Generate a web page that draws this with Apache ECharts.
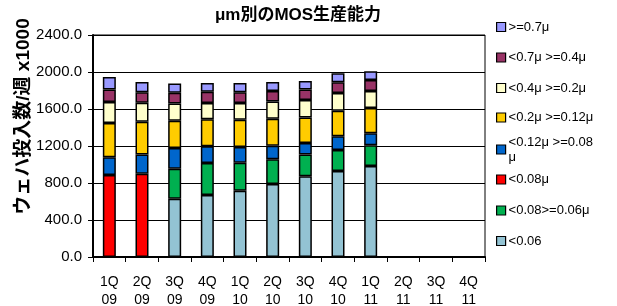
<!DOCTYPE html>
<html>
<head>
<meta charset="utf-8">
<script src="https://cdn.jsdelivr.net/npm/echarts@6/dist/echarts.min.js"></script>
<style>
  html, body { margin: 0; padding: 0; background: #fff; }
  #chart { width: 617px; height: 306px; }
</style>
</head>
<body>
<div id="chart"></div>
<script>
// μm別のMOS生産能力 積み上げ棒グラフ

const categories = ['1Q\n09', '2Q\n09', '3Q\n09', '4Q\n09', '1Q\n10', '2Q\n10', '3Q\n10', '4Q\n10', '1Q\n11', '2Q\n11', '3Q\n11', '4Q\n11'];

// 下から順に積み上げ
const lt006 = [null, null, 629, 669, 716, 789, 872, 930, 984, null, null, null];
const lt008ge006 = [null, null, 326, 347, 304, 267, 235, 227, 224, null, null, null];
const lt008 = [886, 901, null, null, null, null, null, null, null, null, null, null];
const lt012ge008 = [192, 206, 224, 181, 170, 148, 126, 149, 130, null, null, null];
const lt02ge012 = [372, 354, 293, 293, 293, 290, 275, 275, 272, null, null, null];
const lt04ge02 = [225, 206, 188, 174, 181, 188, 188, 191, 184, null, null, null];
const lt07ge04 = [137, 113, 116, 123, 116, 112, 116, 116, 119, null, null, null];
const ge07 = [134, 112, 101, 94, 101, 98, 91, 98, 94, null, null, null];

const yTicks = [0, 400, 800, 1200, 1600, 2000, 2400];

const chartDom = document.getElementById('chart');
let chart = echarts.init(chartDom);

const fontFamily = 'Liberation Sans, Arial, Noto Sans CJK JP, sans-serif';

function bar(name, data, color) {
    return {
        name: name,
        type: 'bar',
        stack: 'total',
        barWidth: 13,
        data: data,
        itemStyle: {
            color: color,
            borderColor: '#000',
            borderWidth: 1.5
        }
    };
}

// 凡例は1項目ずつ位置を指定
function legendItem(name, top, padTop) {
    return {
        data: [name],
        left: 491,
        top: top,
        orient: 'vertical',
        icon: 'rect',
        itemWidth: 9,
        itemHeight: 9,
        itemGap: 0,
        selectedMode: false,
        itemStyle: { borderColor: '#000', borderWidth: 1.2 },
        textStyle: {
            fontFamily: fontFamily, fontSize: 13, color: '#000',
            padding: [padTop || 0, 0, 0, -2], lineHeight: 15
        }
    };
}

let option = {
    animation: false,
    textStyle: { fontFamily: fontFamily },
    title: {
        text: 'μm別のMOS生産能力',
        left: 293,
        textAlign: 'center',
        top: 2,
        textStyle: { fontFamily: fontFamily, fontSize: 17, fontWeight: 'bold', color: '#000' }
    },
    legend: [
        legendItem('>=0.7μ', 14.5),
        legendItem('<0.7μ >=0.4μ', 45),
        legendItem('<0.4μ >=0.2μ', 75.5),
        legendItem('<0.2μ >=0.12μ', 105),
        legendItem('<0.12μ >=0.08\nμ', 122.5, 14),
        legendItem('<0.08μ', 167),
        legendItem('<0.08>=0.06μ', 198),
        legendItem('<0.06', 228.5)
    ],
    grid: {
        left: 93,
        right: 132,
        top: 35,
        bottom: 49,
        outerBoundsMode: 'none',
        show: true,
        borderColor: '#000',
        borderWidth: 1
    },
    xAxis: {
        type: 'category',
        data: categories,
        axisLine: { lineStyle: { color: '#000', width: 2 } },
        axisTick: { show: true, length: 5, lineStyle: { color: '#000' } },
        axisLabel: { color: '#000', fontSize: 14, lineHeight: 18, margin: 16, interval: 0 }
    },
    yAxis: [
        {
            type: 'value',
            min: yTicks[0],
            max: yTicks[yTicks.length - 1],
            interval: 400,
            name: 'ウェハ投入数/週 x1000',
            nameLocation: 'middle',
            nameGap: 60,
            nameMoveOverlap: false,
            nameTextStyle: {
                fontFamily: fontFamily, fontSize: 19, fontWeight: 'bold', color: '#000',
                padding: [0, 0, 0, 59]
            },
            axisLine: { show: true, lineStyle: { color: '#000', width: 2 } },
            axisTick: { show: true, length: 5, lineStyle: { color: '#000' } },
            splitLine: { lineStyle: { color: '#000', width: 1 } },
            axisLabel: {
                color: '#000',
                fontSize: 15,
                margin: 11,
                formatter: function (v) { return v.toFixed(1); }
            }
        },
        {
            // 内側の目盛り線だけを描く
            type: 'value',
            position: 'left',
            min: yTicks[0],
            max: yTicks[yTicks.length - 1],
            interval: 400,
            axisLine: { show: false },
            axisTick: { show: true, inside: true, length: 4, lineStyle: { color: '#000' } },
            axisLabel: { show: false },
            splitLine: { show: false }
        }
    ],
    series: [
        bar('<0.06', lt006, '#93C3D3'),
        bar('<0.08>=0.06μ', lt008ge006, '#00B050'),
        bar('<0.08μ', lt008, '#FF0000'),
        bar('<0.12μ >=0.08\nμ', lt012ge008, '#0066CC'),
        bar('<0.2μ >=0.12μ', lt02ge012, '#FFCC00'),
        bar('<0.4μ >=0.2μ', lt04ge02, '#FFFFCC'),
        bar('<0.7μ >=0.4μ', lt07ge04, '#993366'),
        bar('>=0.7μ', ge07, '#9999FF')
    ]
};

option && chart.setOption(option);
</script>
</body>
</html>
